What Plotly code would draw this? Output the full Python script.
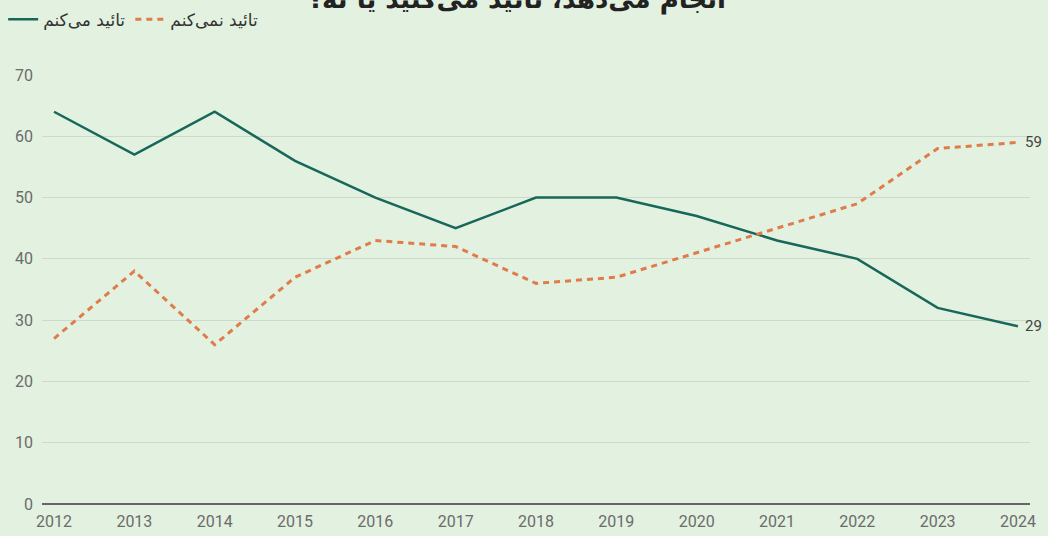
import plotly.graph_objects as go

years = list(range(2012, 2025))
approve = [64, 57, 64, 56, 50, 45, 50, 50, 47, 43, 40, 32, 29]
disapprove = [27, 38, 26, 37, 43, 42, 36, 37, 41, 45, 49, 58, 59]
name_approve = "تائید می‌کنم"
name_disapprove = "تائید نمی‌کنم"
title_text = "انجام می‌دهد، تائید می‌کنید یا نه؟"
y_ticks = [0, 10, 20, 30, 40, 50, 60, 70]

GREEN = "#17675a"
ORANGE = "#e07b4a"
BG = "#e3f1e0"
TXT = "#6b6b6b"

fig = go.Figure()
fig.add_trace(go.Scatter(x=years, y=approve, mode="lines", name=name_approve,
                         line=dict(color=GREEN, width=2.5)))
fig.add_trace(go.Scatter(x=years, y=disapprove, mode="lines", name=name_disapprove,
                         line=dict(color=ORANGE, width=3, dash="6px,5px")))

fig.add_annotation(x=years[-1], y=disapprove[-1], text=str(disapprove[-1]), showarrow=False,
                   xanchor="left", xshift=5, font=dict(family="Roboto", size=15, color="#444"))
fig.add_annotation(x=years[-1], y=approve[-1], text=str(approve[-1]), showarrow=False,
                   xanchor="left", xshift=5, font=dict(family="Roboto", size=15, color="#444"))

fig.add_annotation(xref="paper", yref="paper", x=0.48, y=1.135, yanchor="bottom",
                   text="<b>" + title_text + "</b>", showarrow=False,
                   font=dict(family="DejaVu Sans", size=26, color="#222"))

fig.update_layout(
    width=1048, height=536,
    paper_bgcolor=BG, plot_bgcolor=BG,
    margin=dict(l=42, r=18, t=75, b=32, autoexpand=False),
    showlegend=True,
    legend=dict(orientation="h", x=0.003, y=0.997, xref="container", yref="container",
                xanchor="left", yanchor="top",
                bgcolor="rgba(0,0,0,0)", font=dict(family="DejaVu Sans", size=17, color="#333"),
                itemwidth=30, tracegroupgap=0),
    xaxis=dict(range=[2011.85, 2024.15], tickmode="array", tickvals=years,
               ticktext=[str(y) for y in years], showgrid=False, zeroline=False,
               showline=False, ticks="", automargin=False, ticklabelstandoff=6,
               tickfont=dict(family="Roboto", size=16, color=TXT)),
    yaxis=dict(range=[0, 70], tickvals=y_ticks, showgrid=True, gridcolor="#cdd9ca",
               gridwidth=1, zeroline=True, zerolinecolor="#666", zerolinewidth=2,
               ticks="", ticklabelstandoff=8, automargin=False,
               tickfont=dict(family="Roboto", size=16, color=TXT)),
)

fig.write_html("out.html", config={"displayModeBar": False},
               post_script="document.body.style.margin='0';document.body.style.overflow='hidden';")
